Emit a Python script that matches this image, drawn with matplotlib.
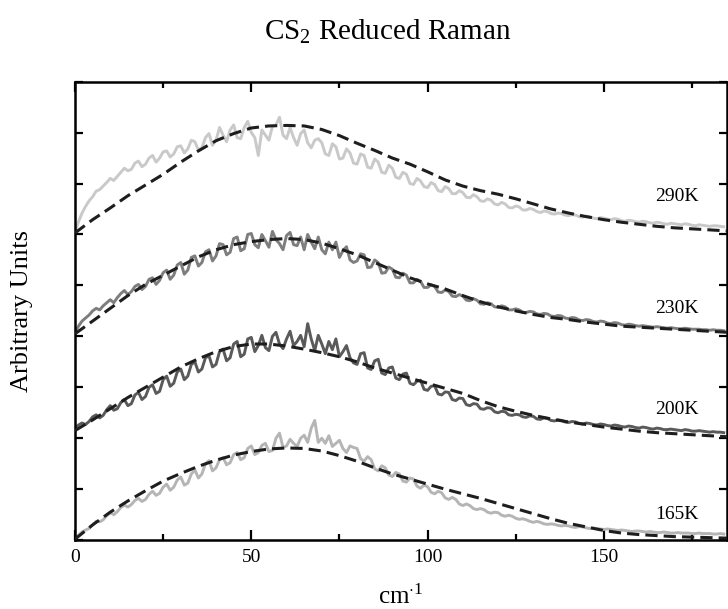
import numpy as np
import matplotlib
matplotlib.use('Agg')
import matplotlib.pyplot as plt

plt.rcParams['font.family'] = ['Liberation Serif', 'DejaVu Serif']
plt.rcParams['mathtext.fontset'] = 'custom'
plt.rcParams['mathtext.rm'] = 'Liberation Serif'
plt.rcParams['mathtext.it'] = 'Liberation Serif'

# measured spectra (1 cm-1 steps), each temperature offset by 2 units
wavenumber = np.arange(0, 185)
spec_290 = [6.05, 6.25, 6.42, 6.55, 6.66, 6.74, 6.85, 6.88, 6.95, 7.02,
            7.1, 7.06, 7.14, 7.22, 7.3, 7.25, 7.28, 7.4, 7.44, 7.33,
            7.38, 7.5, 7.55, 7.42, 7.5, 7.62, 7.64, 7.52, 7.58, 7.72,
            7.74, 7.6, 7.68, 7.85, 7.82, 7.66, 7.7, 7.9, 7.98, 7.75,
            7.85, 8.1, 7.95, 7.82, 8.05, 8.15, 7.9, 7.88, 8.1, 8.22,
            8.0, 7.9, 7.55, 8.05, 7.95, 7.85, 8.12, 8.15, 8.3, 7.95,
            7.88, 8.1, 7.9, 7.75, 7.98, 8.05, 7.8, 7.7, 7.85, 7.88,
            7.8, 7.58, 7.55, 7.78, 7.72, 7.48, 7.5, 7.68, 7.6, 7.4,
            7.38, 7.58, 7.55, 7.32, 7.3, 7.48, 7.42, 7.22, 7.2, 7.36,
            7.3, 7.12, 7.1, 7.22, 7.18, 7.0, 6.98, 7.1, 7.05, 6.94,
            6.92, 7.02, 6.98, 6.86, 6.84, 6.94, 6.9, 6.8, 6.8, 6.86,
            6.82, 6.73, 6.72, 6.78, 6.74, 6.66, 6.65, 6.7, 6.67, 6.6,
            6.58, 6.63, 6.6, 6.53, 6.52, 6.56, 6.54, 6.48, 6.48, 6.51,
            6.49, 6.45, 6.43, 6.46, 6.45, 6.41, 6.4, 6.42, 6.41, 6.38,
            6.37, 6.39, 6.38, 6.35, 6.34, 6.36, 6.35, 6.32, 6.31, 6.33,
            6.32, 6.3, 6.29, 6.31, 6.3, 6.27, 6.26, 6.28, 6.27, 6.25,
            6.24, 6.26, 6.25, 6.23, 6.22, 6.24, 6.23, 6.21, 6.2, 6.22,
            6.21, 6.2, 6.19, 6.21, 6.2, 6.18, 6.17, 6.19, 6.18, 6.17,
            6.16, 6.17, 6.17, 6.16, 6.15]
spec_230 = [4.08, 4.2, 4.3, 4.36, 4.42, 4.5, 4.55, 4.52, 4.6, 4.66,
            4.72, 4.66, 4.76, 4.84, 4.9, 4.82, 4.88, 4.98, 5.02, 4.92,
            4.98, 5.12, 5.15, 5.02, 5.1, 5.25, 5.3, 5.12, 5.2, 5.4,
            5.45, 5.22, 5.3, 5.55, 5.58, 5.38, 5.45, 5.66, 5.7, 5.48,
            5.58, 5.82, 5.8, 5.6, 5.65, 5.92, 5.95, 5.68, 5.72, 6.0,
            6.02, 5.8, 5.74, 6.0, 5.88, 5.75, 6.06, 5.9, 5.82, 5.7,
            5.98, 6.04, 5.8, 5.78, 5.95, 5.7, 6.0, 5.85, 5.72, 5.95,
            5.7, 5.62, 5.85, 5.7, 5.85, 5.55, 5.68, 5.76, 5.5, 5.45,
            5.48, 5.62, 5.6, 5.35, 5.36, 5.5, 5.45, 5.24, 5.25, 5.36,
            5.32, 5.16, 5.15, 5.24, 5.2, 5.05, 5.05, 5.12, 5.08, 4.96,
            4.96, 5.01, 4.98, 4.87, 4.86, 4.91, 4.88, 4.79, 4.78, 4.82,
            4.79, 4.71, 4.7, 4.74, 4.71, 4.64, 4.63, 4.66, 4.64, 4.58,
            4.57, 4.6, 4.58, 4.52, 4.52, 4.54, 4.52, 4.47, 4.47, 4.49,
            4.48, 4.44, 4.43, 4.45, 4.44, 4.4, 4.39, 4.41, 4.4, 4.36,
            4.35, 4.37, 4.36, 4.32, 4.31, 4.33, 4.32, 4.29, 4.28, 4.3,
            4.29, 4.26, 4.25, 4.27, 4.26, 4.23, 4.22, 4.24, 4.23, 4.21,
            4.2, 4.21, 4.2, 4.19, 4.18, 4.19, 4.18, 4.17, 4.16, 4.17,
            4.16, 4.15, 4.15, 4.16, 4.15, 4.14, 4.14, 4.14, 4.13, 4.13,
            4.12, 4.13, 4.12, 4.12, 4.11]
spec_200 = [2.2, 2.26, 2.3, 2.27, 2.33, 2.42, 2.46, 2.4, 2.45, 2.56,
            2.64, 2.55, 2.58, 2.7, 2.76, 2.64, 2.68, 2.85, 2.9, 2.76,
            2.82, 3.0, 3.05, 2.88, 2.92, 3.15, 3.22, 3.02, 3.08, 3.3,
            3.36, 3.15, 3.22, 3.45, 3.5, 3.3, 3.36, 3.58, 3.62, 3.4,
            3.45, 3.7, 3.75, 3.52, 3.58, 3.85, 3.9, 3.6, 3.65, 3.95,
            3.98, 3.7, 3.82, 4.02, 3.78, 3.72, 4.0, 4.08, 3.85, 3.76,
            3.95, 4.1, 3.82, 3.9, 4.02, 3.8, 4.25, 3.95, 3.72, 4.02,
            3.85, 3.66, 3.9, 3.74, 3.95, 3.6, 3.7, 3.82, 3.58, 3.48,
            3.45, 3.66, 3.68, 3.38, 3.35, 3.52, 3.55, 3.28, 3.25, 3.38,
            3.4, 3.18, 3.15, 3.26, 3.28, 3.08, 3.05, 3.12, 3.14, 2.96,
            2.94, 3.02, 3.03, 2.87, 2.85, 2.91, 2.9, 2.76, 2.74, 2.79,
            2.78, 2.66, 2.64, 2.68, 2.67, 2.58, 2.57, 2.6, 2.59, 2.52,
            2.5, 2.53, 2.52, 2.46, 2.45, 2.47, 2.46, 2.42, 2.41, 2.44,
            2.43, 2.38, 2.37, 2.4, 2.39, 2.35, 2.34, 2.36, 2.35, 2.32,
            2.31, 2.33, 2.32, 2.29, 2.28, 2.3, 2.29, 2.27, 2.26, 2.28,
            2.27, 2.25, 2.24, 2.26, 2.25, 2.23, 2.22, 2.24, 2.23, 2.21,
            2.2, 2.22, 2.21, 2.19, 2.18, 2.2, 2.19, 2.17, 2.17, 2.18,
            2.17, 2.16, 2.15, 2.17, 2.16, 2.14, 2.14, 2.15, 2.14, 2.13,
            2.12, 2.13, 2.12, 2.12, 2.11]
spec_165 = [0.04, 0.1, 0.16, 0.2, 0.23, 0.3, 0.37, 0.36, 0.4, 0.48,
            0.54, 0.5, 0.56, 0.64, 0.69, 0.65, 0.7, 0.78, 0.82, 0.76,
            0.8, 0.9, 0.96, 0.88, 0.92, 1.04, 1.1, 0.98, 1.04, 1.18,
            1.24, 1.08, 1.12, 1.3, 1.38, 1.22, 1.3, 1.5, 1.56, 1.36,
            1.42, 1.58, 1.62, 1.48, 1.52, 1.68, 1.72, 1.58, 1.62, 1.8,
            1.85, 1.68, 1.72, 1.86, 1.9, 1.74, 1.76, 2.0, 2.1, 1.82,
            1.85, 1.98, 1.9, 1.84, 2.0, 2.06, 1.92, 2.2, 2.35, 1.92,
            2.0, 1.9, 2.05, 1.84, 1.9, 1.96, 1.8, 1.72, 1.85, 1.82,
            1.8, 1.6, 1.55, 1.64, 1.58, 1.4, 1.36, 1.46, 1.42, 1.28,
            1.25, 1.33, 1.3, 1.16, 1.14, 1.22, 1.2, 1.06, 1.02, 1.08,
            1.05, 0.94, 0.91, 0.96, 0.93, 0.83, 0.8, 0.84, 0.8, 0.71,
            0.68, 0.71, 0.68, 0.62, 0.6, 0.62, 0.6, 0.55, 0.53, 0.55,
            0.54, 0.49, 0.47, 0.49, 0.47, 0.43, 0.41, 0.42, 0.4, 0.37,
            0.35, 0.37, 0.35, 0.32, 0.31, 0.32, 0.31, 0.29, 0.28, 0.29,
            0.28, 0.26, 0.25, 0.27, 0.26, 0.24, 0.23, 0.24, 0.23, 0.22,
            0.21, 0.22, 0.21, 0.2, 0.19, 0.2, 0.19, 0.18, 0.17, 0.18,
            0.18, 0.17, 0.16, 0.17, 0.16, 0.15, 0.15, 0.16, 0.15, 0.14,
            0.14, 0.15, 0.14, 0.14, 0.14, 0.13, 0.13, 0.14, 0.13, 0.13,
            0.13, 0.12, 0.12, 0.13, 0.12]

# model fits (dashed), 5 cm-1 steps
fit_x = np.arange(0, 186, 5)
fit_290 = [6.03, 6.29, 6.52, 6.76, 6.97, 7.18, 7.42, 7.64, 7.84, 7.98, 8.09, 8.13, 8.14, 8.13, 8.06, 7.94, 7.79, 7.65, 7.5,
           7.38, 7.23, 7.07, 6.95, 6.86, 6.79, 6.7, 6.6, 6.5, 6.42, 6.35, 6.29, 6.24, 6.2, 6.16, 6.13, 6.11, 6.09, 6.07]
fit_230 = [4.05, 4.3, 4.55, 4.8, 5.02, 5.2, 5.38, 5.56, 5.7, 5.8, 5.86, 5.9, 5.92, 5.9, 5.83, 5.72, 5.6, 5.45, 5.3,
           5.15, 5.03, 4.93, 4.8, 4.68, 4.58, 4.5, 4.43, 4.37, 4.33, 4.28, 4.24, 4.2, 4.18, 4.16, 4.14, 4.12, 4.1, 4.08]
fit_200 = [2.15, 2.36, 2.58, 2.8, 3.0, 3.2, 3.4, 3.56, 3.7, 3.8, 3.85, 3.85, 3.81, 3.75, 3.68, 3.6, 3.5, 3.38, 3.28,
           3.18, 3.08, 2.98, 2.88, 2.74, 2.62, 2.53, 2.45, 2.38, 2.32, 2.27, 2.22, 2.18, 2.14, 2.11, 2.09, 2.07, 2.05, 2.03]
fit_165 = [0.02, 0.3, 0.55, 0.77, 0.97, 1.16, 1.31, 1.45, 1.57, 1.67, 1.74, 1.79, 1.81, 1.8, 1.75, 1.66, 1.55, 1.42, 1.3,
           1.2, 1.1, 1.0, 0.91, 0.82, 0.72, 0.62, 0.52, 0.42, 0.33, 0.26, 0.19, 0.14, 0.11, 0.09, 0.07, 0.06, 0.05, 0.04]

labels = ['290K', '230K', '200K', '165K']
label_y = [6.74, 4.54, 2.57, 0.51]
spectra = [spec_290, spec_230, spec_200, spec_165]
fits = [fit_290, fit_230, fit_200, fit_165]
colors = ['#c9c9c9', '#7e7e7e', '#5a5a5a', '#b5b5b5']

fig = plt.figure(figsize=(7.28, 6.09), dpi=100)
ax = fig.add_axes([0.103, 0.113, 0.896, 0.753])

for spec, fit, col in zip(spectra, fits, colors):
    ax.plot(wavenumber, spec, color=col, lw=2.1, zorder=2)
    ax.plot(fit_x, fit, color='#1e1e1e', lw=2.2, dashes=(4, 2), zorder=3)

for lab, ly in zip(labels, label_y):
    ax.text(177, ly, lab, ha='right', va='center', fontsize=14)

ax.set_xlim(0, 185)
ax.set_ylim(0, 9)
ax.set_xticks([0, 50, 100, 150])
ax.set_xticks([25, 75, 125, 175], minor=True)
ax.set_yticks(np.arange(0, 10, 1))
ax.set_yticklabels([])
ax.tick_params(which='both', direction='in', top=True, right=True, width=1.6)
ax.tick_params(which='major', length=7, labelsize=14, pad=6)
ax.tick_params(which='minor', length=4)
ax.tick_params(axis='y', length=6)
for s in ax.spines.values():
    s.set_linewidth(1.8)

fig.text(0.532, 0.948, r'CS$_2$ Reduced Raman', ha='center', va='center', fontsize=21)
fig.text(0.55, 0.008, r'cm$^{\cdot 1}$', ha='center', va='baseline', fontsize=18)
fig.text(0.03, 0.49, 'Arbitrary Units', ha='center', va='center', rotation=90, fontsize=19)

fig.savefig('out.png', dpi=100)
